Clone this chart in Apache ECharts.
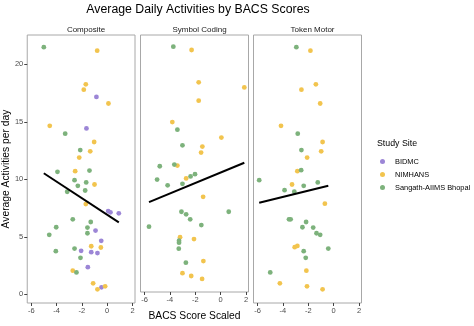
<!DOCTYPE html>
<html><head><meta charset="utf-8">
<script src="https://cdn.jsdelivr.net/npm/echarts@6/dist/echarts.min.js"></script>
<style>html,body{margin:0;padding:0;background:#fff}#c{width:474px;height:326px}</style>
</head><body><div id="c"></div>
<script>
const panels = ['Composite', 'Symbol Coding', 'Token Motor'];
const sites = ['BIDMC', 'NIMHANS', 'Sangath-AIIMS Bhopal'];
const xTicks = [-6, -4, -2, 0, 2];
const yTicks = [0, 5, 10, 15, 20];

const compositeBIDMC = [[-0.85,17.17],[-1.64,14.43],[0.08,7.24],[0.26,7.13],[0.92,7.04],[-0.92,5.54],[-0.47,4.65],[-2.06,3.78],[-1.26,3.66],[-0.77,3.58],[-1.53,2.36],[-0.45,0.6]];
const compositeNIMHANS = [[-0.79,21.2],[-1.69,18.27],[-1.85,17.8],[0.10,16.6],[-4.54,14.66],[-1.03,13.25],[-1.34,12.44],[-2.21,11.89],[-2.53,10.71],[-1.0,9.55],[-1.69,7.85],[-1.26,4.18],[-0.5,4.07],[-2.72,2.05],[-1.11,0.95],[-0.77,0.43],[-0.16,0.69]];
const compositeSangath = [[-5.01,21.5],[-3.32,13.97],[-2.13,12.55],[-3.93,10.65],[-1.40,10.76],[-2.58,9.93],[-1.66,9.73],[-2.32,9.44],[-3.16,8.92],[-1.74,9.03],[-2.72,6.52],[-4.03,5.83],[-1.30,6.29],[-1.56,5.8],[-1.56,5.31],[-4.58,5.17],[-2.58,3.98],[-4.06,3.75],[-2.11,3.17],[-2.43,1.9]];

const symbolBIDMC = [];
const symbolNIMHANS = [[-2.29,21.2],[-1.73,18.27],[1.87,17.8],[-1.73,16.6],[-3.81,14.66],[0.06,13.25],[-1.44,12.44],[-1.54,11.89],[-3.41,10.71],[-2.72,9.55],[-1.38,7.88],[-3.2,4.21],[-2.1,4.04],[-1.36,2.05],[-3.01,0.95],[-2.32,0.69],[-1.46,0.43]];
const symbolSangath = [[-3.73,21.5],[-3.41,13.97],[-3.01,12.55],[-4.8,10.65],[-3.65,10.8],[-5.01,9.44],[-4.18,8.92],[-3.01,9.06],[-2.37,9.73],[-2.02,9.93],[-3.09,6.52],[-2.72,6.29],[0.64,6.52],[-2.4,5.83],[-5.65,5.17],[-1.52,5.31],[-3.28,3.9],[-3.28,3.72],[-3.3,3.17],[-2.74,1.9]];

const tokenBIDMC = [];
const tokenNIMHANS = [[-1.83,21.2],[-1.40,18.27],[-2.54,17.8],[-1.06,16.6],[-4.15,14.66],[-0.87,13.25],[-0.98,12.44],[-2.09,11.89],[-2.86,10.71],[-3.28,9.55],[-0.69,7.88],[-3.07,4.1],[-2.86,4.21],[-2.15,2.05],[-4.24,0.95],[-2.1,0.69],[-0.87,0.43]];
const tokenSangath = [[-2.94,21.5],[-2.83,13.97],[-2.54,12.55],[-5.87,9.93],[-2.56,10.8],[-2.36,9.44],[-1.25,9.73],[-3.87,9.06],[-3.10,8.92],[-3.52,6.52],[-3.39,6.52],[-2.17,6.29],[-2.46,5.83],[-1.61,5.8],[-1.35,5.31],[-1.06,5.17],[-0.42,3.98],[-2.36,3.75],[-2.2,3.17],[-5.0,1.9]];

const compositeFit = [[-5.01,10.53],[0.92,6.26]];
const symbolFit = [[-5.65,7.39],[1.87,10.97]];
const tokenFit = [[-5.87,7.97],[-0.42,9.44]];

const panelData = [
  [compositeBIDMC, compositeNIMHANS, compositeSangath],
  [symbolBIDMC, symbolNIMHANS, symbolSangath],
  [tokenBIDMC, tokenNIMHANS, tokenSangath]
];
const fits = [compositeFit, symbolFit, tokenFit];
const colors = ['#9c86d6', '#f2c44e', '#7db27c'];

const gridLefts = [27, 140.5, 253.5];
const gridW = 108, gridTop = 35, gridH = 268;
const font = 'Liberation Sans, Arial, sans-serif';

const grids = [], xAxes = [], yAxes = [], series = [], titles = [];
titles.push({text: 'Average Daily Activities by BACS Scores', left: 193, top: -1, textAlign: 'center',
  textStyle: {fontFamily: font, fontSize: 12.3, fontWeight: 'normal', color: '#000'}});
titles.push({text: 'Study Site', left: 372, top: 134,
  textStyle: {fontFamily: font, fontSize: 8.8, fontWeight: 'normal', color: '#000'}});
panels.forEach((p, i) => {
  grids.push({left: gridLefts[i], top: gridTop, width: gridW, height: gridH, show: true,
    borderColor: '#a8a8a8', borderWidth: 1, backgroundColor: '#fff'});
  titles.push({text: p, left: gridLefts[i] + gridW / 2, top: 21, textAlign: 'center',
    textStyle: {fontFamily: font, fontSize: 8, fontWeight: 'normal', color: '#1a1a1a'}});
  xAxes.push({type: 'value', gridIndex: i, min: -6.32, max: 2.2,
    splitLine: {show: false}, axisLine: {show: false, onZero: false},
    axisTick: {show: true, length: 3, lineStyle: {color: '#444'}, customValues: xTicks},
    axisLabel: {fontFamily: font, fontSize: 7.5, color: '#4d4d4d', margin: 4, customValues: xTicks},
    name: i === 1 ? 'BACS Score Scaled' : '', nameLocation: 'middle', nameGap: 19,
    nameTextStyle: {fontFamily: font, fontSize: 10.3, color: '#000'}});
  yAxes.push({type: 'value', gridIndex: i, min: -0.76, max: 22.56,
    splitLine: {show: false}, axisLine: {show: false, onZero: false},
    axisTick: {show: i === 0, length: 3, lineStyle: {color: '#444'}, customValues: yTicks},
    axisLabel: {show: i === 0, fontFamily: font, fontSize: 7.5, color: '#4d4d4d', margin: 4, customValues: yTicks},
    name: i === 0 ? 'Average Activities per day' : '', nameLocation: 'middle', nameGap: 14,
    nameTextStyle: {fontFamily: font, fontSize: 10.3, color: '#000'}});
  sites.forEach((s, k) => {
    series.push({type: 'scatter', name: s, xAxisIndex: i, yAxisIndex: i, data: panelData[i][k],
      symbol: 'circle', symbolSize: 4.8, itemStyle: {color: colors[k], opacity: 1}, z: 2});
  });
  series.push({type: 'line', name: 'fit' + i, xAxisIndex: i, yAxisIndex: i, data: fits[i],
    showSymbol: false, symbol: 'none', lineStyle: {color: '#000', width: 2}, z: 3, silent: true});
});

const chart = echarts.init(document.getElementById('c'), null, {renderer: 'canvas'});
chart.setOption({
  animation: false,
  title: titles,
  grid: grids, xAxis: xAxes, yAxis: yAxes, series: series,
  legend: {data: sites, orient: 'vertical', left: 375, top: 153, itemGap: 6, icon: 'circle',
    itemWidth: 5, itemHeight: 5,
    textStyle: {fontFamily: font, fontSize: 7.4, color: '#000', padding: [0, 0, 0, 5]}}
});
</script></body></html>
